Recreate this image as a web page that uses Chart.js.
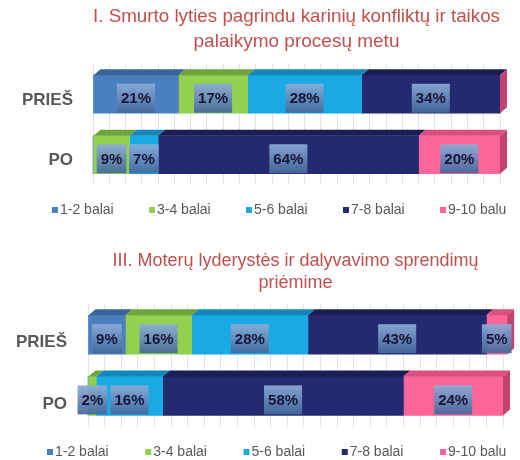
<!DOCTYPE html>
<html lang="lt">
<head>
<meta charset="utf-8">
<script src="https://cdn.jsdelivr.net/npm/chart.js@4.4.1/dist/chart.umd.min.js"></script>
<style>
  html, body { margin: 0; padding: 0; background: #fff; }
  .blokas { position: absolute; left: 0; width: 520px; height: 230px; }
</style>
</head>
<body>
<div class="blokas" style="top:0"><canvas id="grafikas1"></canvas></div>
<div class="blokas" style="top:230px"><canvas id="grafikas2"></canvas></div>
<script>
// Duomenys
const kategorijos = ['PRIEŠ', 'PO'];
const balai = ['1-2 balai', '3-4 balai', '5-6 balai', '7-8 balai', '9-10 balu'];
const smurtasPries = [21, 17, 28, 34, 0];
const smurtasPo = [0, 9, 7, 64, 20];
const lyderystePries = [9, 16, 28, 43, 5];
const lyderystePo = [0, 2, 16, 58, 24];

// Spalvos
const spalvos = ['#4a7fc0', '#92d050', '#19aae4', '#232a70', '#fb6699'];
const virsus = ['#3a6498', '#6fa43a', '#1387b8', '#191e55', '#d9507f'];
const galoSpalva = '#c4426f';

Chart.defaults.font.family = '"Liberation Sans", Arial, sans-serif';

// 3D virsus, galas ir procentu etiketes
const trimatis = {
    id: 'trimatis',
    afterDatasetsDraw(chart) {
        const ctx = chart.ctx;
        const n = chart.data.datasets.length;
        ctx.save();
        chart.data.labels.forEach((_, j) => {
            let paskutinis = null;
            for (let i = 0; i < n; i++) {
                const el = chart.getDatasetMeta(i).data[j];
                if (el.x - el.base <= 0) continue;
                const top = el.y - el.height / 2;
                ctx.fillStyle = virsus[i];
                ctx.beginPath();
                ctx.moveTo(el.base, top);
                ctx.lineTo(el.base + 7, top - 6);
                ctx.lineTo(el.x + 7, top - 6);
                ctx.lineTo(el.x, top);
                ctx.closePath();
                ctx.fill();
                paskutinis = el;
            }
            if (paskutinis) {
                const top = paskutinis.y - paskutinis.height / 2;
                const bot = paskutinis.y + paskutinis.height / 2;
                ctx.fillStyle = galoSpalva;
                ctx.beginPath();
                ctx.moveTo(paskutinis.x, top);
                ctx.lineTo(paskutinis.x + 7, top - 6);
                ctx.lineTo(paskutinis.x + 7, bot - 6);
                ctx.lineTo(paskutinis.x, bot);
                ctx.closePath();
                ctx.fill();
            }
        });

        // etiketes
        ctx.font = 'bold 15px "Liberation Sans", Arial, sans-serif';
        ctx.textAlign = 'center';
        ctx.textBaseline = 'middle';
        chart.data.datasets.forEach((ds, i) => {
            chart.getDatasetMeta(i).data.forEach((el, j) => {
                const v = ds.data[j];
                if (!v) return;
                const txt = v + '%';
                const cx = (el.x + el.base) / 2;
                const cy = el.y + 4;
                const bw = ctx.measureText(txt).width + 8;
                const bh = 29;
                const g = ctx.createLinearGradient(0, cy - bh / 2, 0, cy + bh / 2);
                g.addColorStop(0, 'rgba(140,172,215,0.93)');
                g.addColorStop(1, 'rgba(68,104,155,0.93)');
                ctx.fillStyle = g;
                ctx.fillRect(cx - bw / 2, cy - bh / 2, bw, bh);
                ctx.fillStyle = '#15163a';
                ctx.fillText(txt, cx, cy + 1);
            });
        });
        ctx.restore();
    }
};

// Legenda apacioje
const legenda = {
    id: 'legenda',
    afterDraw(chart, args, opts) {
        const ctx = chart.ctx;
        ctx.save();
        ctx.font = '14px "Liberation Sans", Arial, sans-serif';
        ctx.textBaseline = 'middle';
        ctx.textAlign = 'left';
        chart.data.datasets.forEach((ds, i) => {
            const x = opts.x + i * opts.step;
            ctx.fillStyle = ds.backgroundColor;
            ctx.fillRect(x, opts.y - 3, 6, 6);
            ctx.fillStyle = '#595959';
            ctx.fillText(ds.label, x + 8, opts.y);
        });
        ctx.restore();
    }
};

function rinkiniai(pries, po, storis) {
    return balai.map((b, i) => ({
        label: b,
        data: [pries[i], po[i]],
        backgroundColor: spalvos[i],
        borderWidth: 0,
        barThickness: storis,
        clip: false
    }));
}

function nustatymai(o) {
    return {
        indexAxis: 'y',
        responsive: true,
        maintainAspectRatio: false,
        animation: false,
        layout: { padding: o.padding },
        scales: {
            x: {
                stacked: true, min: 0, max: 100,
                ticks: { display: false, stepSize: 4 },
                grid: { color: '#e3e3e3', drawTicks: false },
                border: { display: false }
            },
            y: {
                stacked: true,
                grid: { display: false, drawTicks: false },
                border: { display: false },
                ticks: { color: '#595959', font: { size: 17, weight: 'bold' }, padding: o.tarpas, labelOffset: o.labelOffset },
                afterFit(s) { s.width = o.yPlotis; }
            }
        },
        plugins: {
            legend: { display: false },
            tooltip: { enabled: false },
            title: {
                display: true,
                text: o.pavadinimas,
                color: '#c0504d',
                font: { size: o.sriftas, weight: 'normal', lineHeight: o.eilute },
                padding: o.titlePadding,
                fullSize: false
            },
            legenda: o.legenda
        }
    };
}

new Chart(document.getElementById('grafikas1'), {
    type: 'bar',
    data: { labels: kategorijos, datasets: rinkiniai(smurtasPries, smurtasPo, 38) },
    options: nustatymai({
        padding: { left: 0, right: 20, top: 0, bottom: 45 },
        yPlotis: 93,
        tarpas: 20,
        labelOffset: 6,
        pavadinimas: ['I. Smurto lyties pagrindu karinių konfliktų ir taikos', 'palaikymo procesų metu'],
        sriftas: 19,
        eilute: 1.316,
        titlePadding: { top: 4.5, bottom: 9.5 },
        legenda: { x: 52, y: 210, step: 97 }
    }),
    plugins: [trimatis, legenda]
});

new Chart(document.getElementById('grafikas2'), {
    type: 'bar',
    data: { labels: kategorijos, datasets: rinkiniai(lyderystePries, lyderystePo, 39) },
    options: nustatymai({
        padding: { left: 0, right: 17, top: 0, bottom: 33.5 },
        yPlotis: 88,
        tarpas: 21,
        labelOffset: 8,
        pavadinimas: ['III. Moterų lyderystės ir dalyvavimo sprendimų', 'priėmime'],
        sriftas: 18,
        eilute: 1.17,
        titlePadding: { top: 21, bottom: 11 },
        legenda: { x: 47, y: 222, step: 98.25 }
    }),
    plugins: [trimatis, legenda]
});
</script>
</body>
</html>
